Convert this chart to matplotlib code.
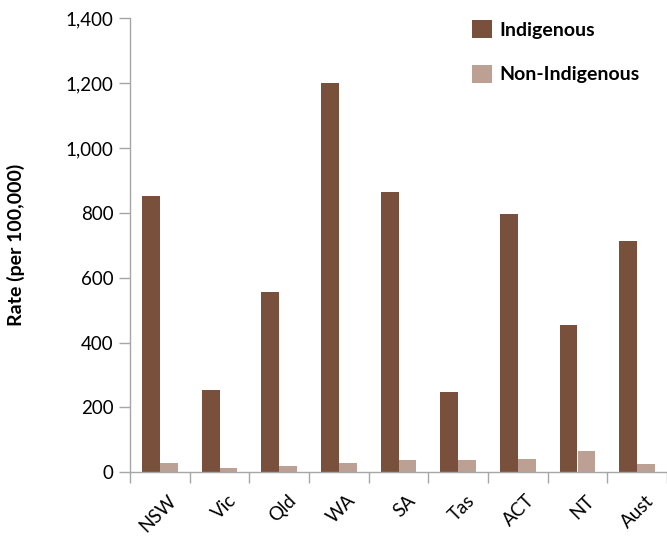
import numpy as np
import matplotlib
matplotlib.use("Agg")
import matplotlib.pyplot as plt
from matplotlib.transforms import ScaledTranslation

# data
states = ["NSW", "Vic", "Qld", "WA", "SA", "Tas", "ACT", "NT", "Aust"]
indigenous = [852, 253, 555, 1200, 865, 247, 797, 455, 713]
non_indigenous = [30, 14, 20, 30, 37, 37, 40, 66, 27]
yticks = [0, 200, 400, 600, 800, 1000, 1200, 1400]

c_ind = "#78503C"
c_non = "#BCA094"
grey = "#A6A6A6"

plt.rcParams['font.family'] = ['Lato', 'DejaVu Sans']

fig = plt.figure(figsize=(6.67, 5.38), dpi=100)
ax = fig.add_axes([130 / 667, (538 - 472.3) / 538, 1 - 130 / 667, (472.3 - 18.3) / 538])

x = np.arange(len(states))
w = 0.3
ax.bar(x - w / 2, indigenous, w, color=c_ind, label="Indigenous")
ax.bar(x + w / 2, non_indigenous, w, color=c_non, label="Non-Indigenous")

ax.set_xlim(-0.5, len(states) - 0.5)
ax.set_ylim(0, 1400)
ax.set_yticks(yticks)
ax.set_yticklabels([f"{v:,}" for v in yticks], fontsize=13.5)

# category boundary ticks on x
ax.set_xticks(np.arange(len(states) + 1) - 0.5)
ax.set_xticklabels([])
ax.set_xticks(x, minor=True)
ax.set_xticklabels(states, minor=True, rotation=45, ha="right", rotation_mode="anchor", fontsize=13.5)
ax.tick_params(axis="x", which="minor", length=0, pad=14)
ax.tick_params(axis="x", which="major", length=8, width=1, color=grey)
ax.tick_params(axis="y", length=8, width=1, color=grey, pad=4)
shift = ScaledTranslation(8 / 100, 0, fig.dpi_scale_trans)
for lab in ax.get_xticklabels(minor=True):
    lab.set_transform(lab.get_transform() + shift)

for s in ["top", "right"]:
    ax.spines[s].set_visible(False)
for s in ["left", "bottom"]:
    ax.spines[s].set_color(grey)
    ax.spines[s].set_linewidth(1)

ax.set_ylabel("Rate (per 100,000)", fontsize=14, fontweight="bold", labelpad=29)

leg = ax.legend(loc="upper left", bbox_to_anchor=(472 / 667, (538 - 20) / 538),
                bbox_transform=fig.transFigure, frameon=False, fontsize=14,
                handlelength=1.03, handleheight=1.03, labelspacing=1.35,
                handletextpad=0.4, borderpad=0, borderaxespad=0)
for t in leg.get_texts():
    t.set_fontweight("bold")

fig.savefig("out.png", dpi=100)
